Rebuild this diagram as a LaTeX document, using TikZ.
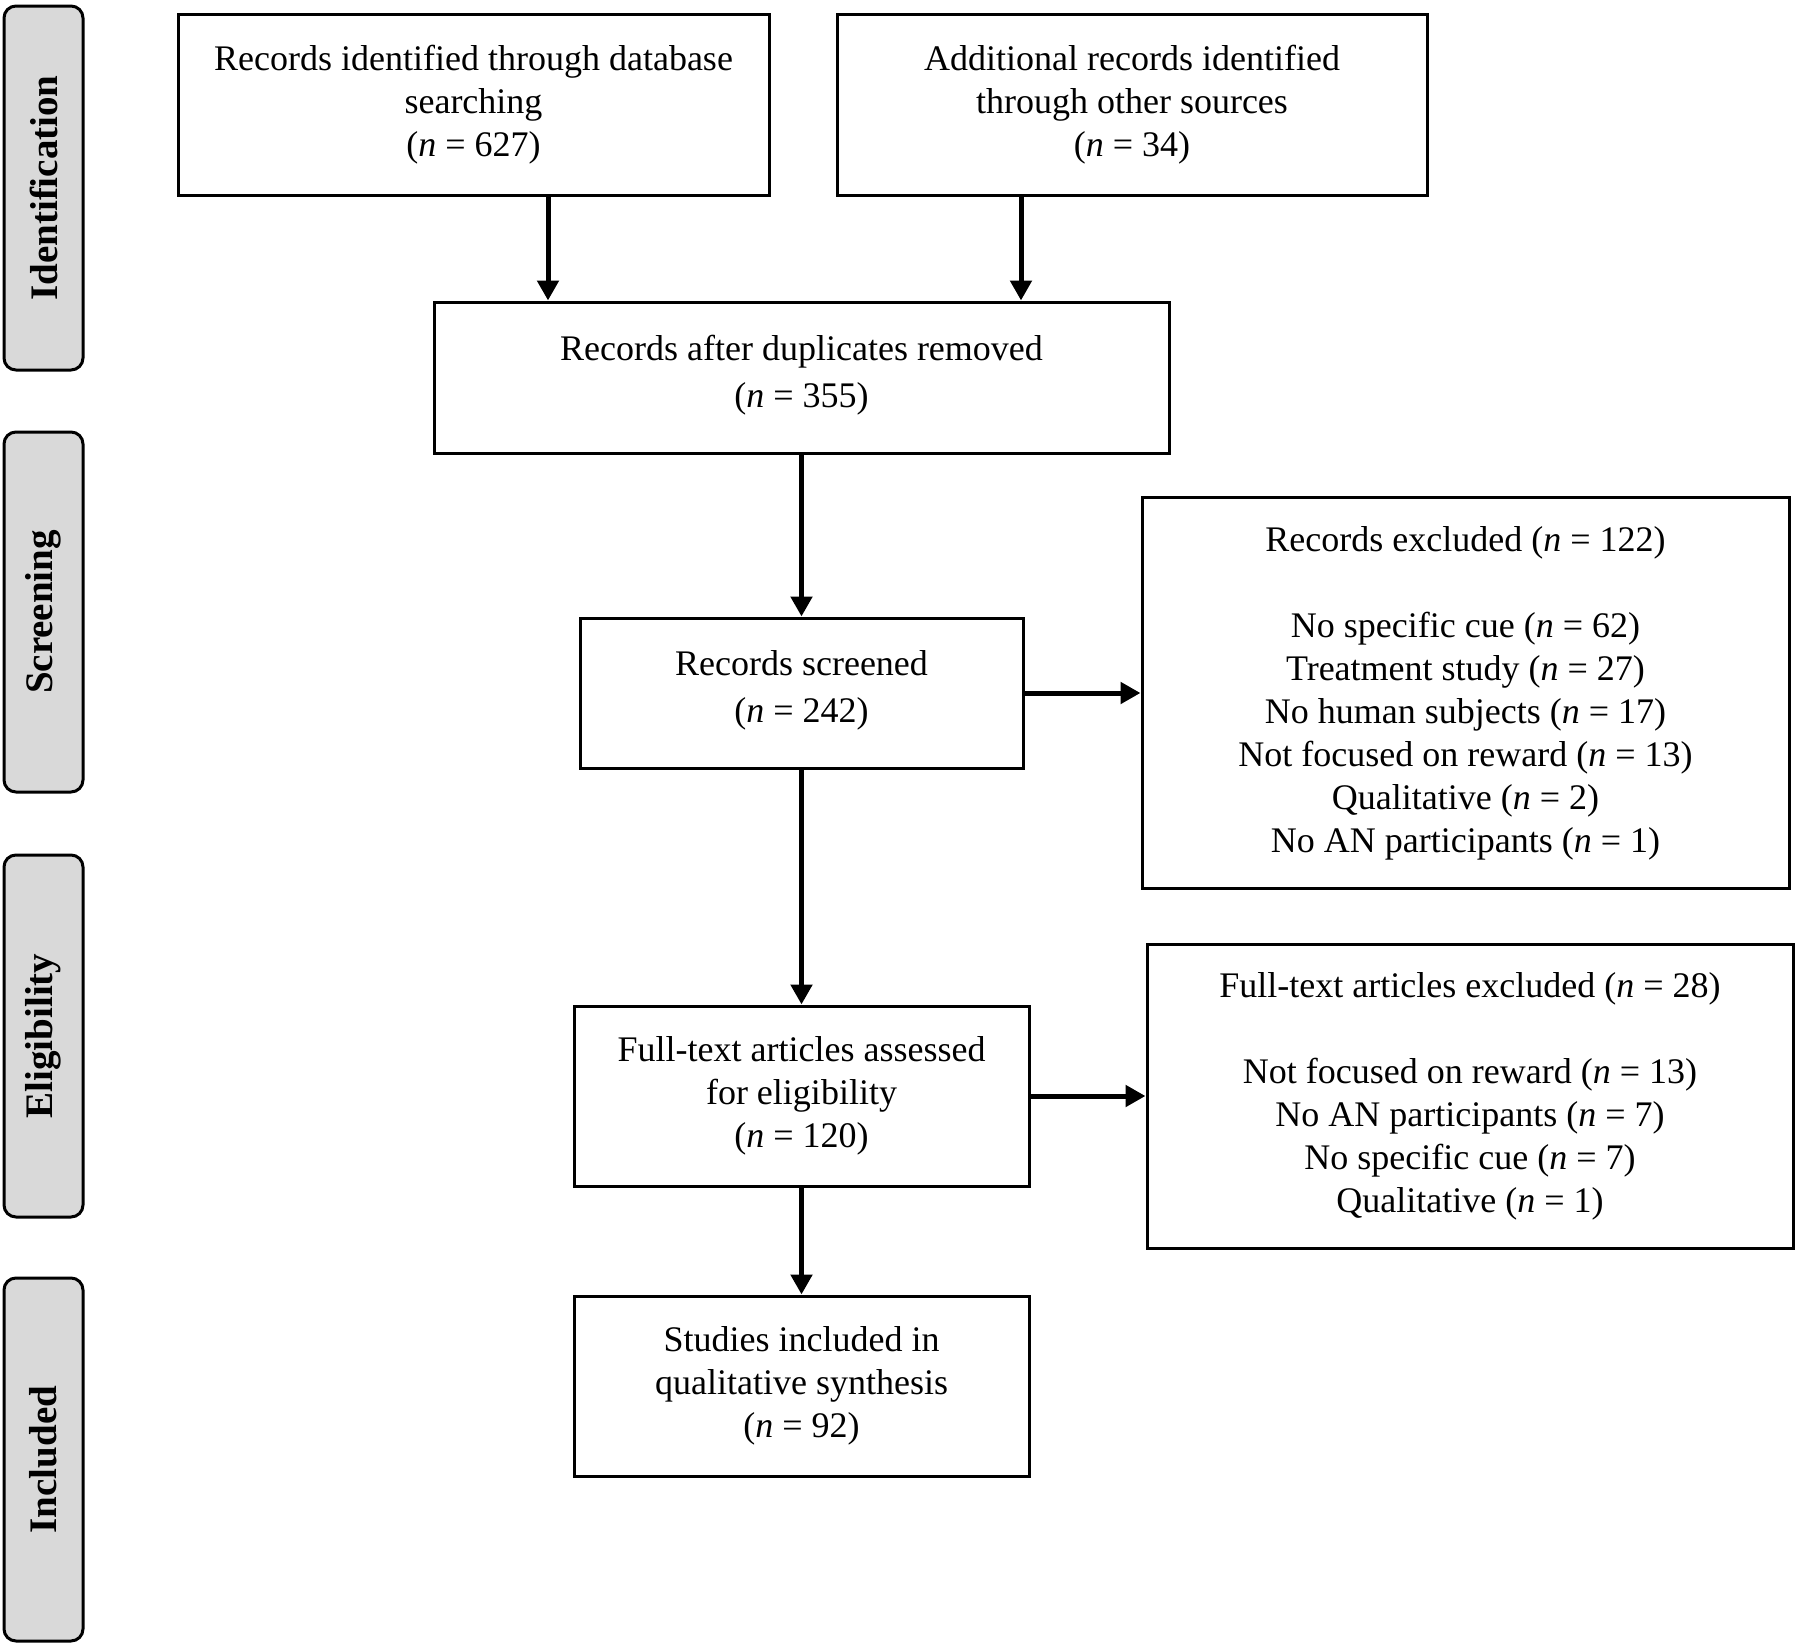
\documentclass[tikz,border=0pt]{standalone}
\usepackage{fontspec}
\setmainfont{Liberation Serif}
\usetikzlibrary{arrows.meta,calc}
\definecolor{phasegray}{HTML}{D9D9D9}
\newlength\boxrule
\newlength\arrowrule
\setlength{\boxrule}{1.5pt}
\setlength{\arrowrule}{2.5pt}
\newcommand{\nval}[1]{(\textit{n} = #1)}
\newcommand{\phaselabel}[3]{
   \node[phase, minimum width=#3] (#1) at (43.5,#2) {#1};
}
\tikzset{
  stagebox/.style={draw, line width=\boxrule, align=center, inner sep=4pt,
    font=\fontsize{18pt}{21.5pt}\selectfont},
  phase/.style={draw, line width=\boxrule, fill=phasegray, rounded corners=6pt,
    rotate=90, minimum height=39.5pt, inner sep=0pt,
    font=\fontsize{19.5pt}{22pt}\selectfont\bfseries},
  flow/.style={line width=\arrowrule, -{Triangle[length=10pt,width=10.5pt]}}
}
\begin{document}
\begin{tikzpicture}[x=0.5pt,y=-0.5pt]
    \useasboundingbox (0,0) rectangle (1800,1649);
    % phases
    \phaselabel{Identification}{188}{182pt}
    \phaselabel{Screening}{612}{180pt}
    \phaselabel{Eligibility}{1036}{181pt}
    \phaselabel{Included}{1459.5}{181.5pt}
    % boxes
    \node[stagebox, minimum width=295.5pt, minimum height=90.5pt] (dbsearch) at (473.5,104.5)
      {Records identified through database\\searching\\\nval{627}};
    \node[stagebox, minimum width=295pt, minimum height=90.5pt] (other) at (1132,104.5)
      {Additional records identified\\through other sources\\\nval{34}};
    \node[stagebox, minimum width=367.5pt, minimum height=75.5pt] (dedup) at (801.5,377.5)
      {Records after duplicates removed\\[2pt]\nval{355}\\[-15pt]\mbox{}};
    \node[stagebox, minimum width=221.5pt, minimum height=75pt] (screened) at (801.5,693)
      {Records screened\\[2pt]\nval{242}\\[-15pt]\mbox{}};
    \node[stagebox, minimum width=323.5pt, minimum height=195.5pt] (excl) at (1465.5,693)
      {Records excluded \nval{122}\\[21.5pt]
       No specific cue \nval{62}\\
       Treatment study \nval{27}\\
       No human subjects \nval{17}\\
       Not focused on reward \nval{13}\\
       Qualitative \nval{2}\\
       No AN participants \nval{1}};
    \node[stagebox, minimum width=227.5pt, minimum height=90pt] (fulltext) at (801.5,1096)
      {Full-text articles assessed\\for eligibility\\\nval{120}};
    \node[stagebox, minimum width=323pt, minimum height=152pt] (ftexcl) at (1470,1096)
      {Full-text articles excluded \nval{28}\\[21.5pt]
       Not focused on reward \nval{13}\\
       No AN participants \nval{7}\\
       No specific cue \nval{7}\\
       Qualitative \nval{1}};
    \node[stagebox, minimum width=227.5pt, minimum height=90pt] (included) at (801.5,1386)
      {Studies included in\\qualitative synthesis\\\nval{92}};
    % arrows
    \coordinate (A1) at (548,0);
    \coordinate (A2) at (1021,0);
    \draw[flow] (dbsearch.south -| A1) -- (dedup.north -| A1);
    \draw[flow] (other.south -| A2) -- (dedup.north -| A2);
    \draw[flow] (dedup) -- (screened);
    \draw[flow] (screened) -- (excl);
    \draw[flow] (screened) -- (fulltext);
    \draw[flow] (fulltext) -- (ftexcl);
    \draw[flow] (fulltext) -- (included);
\end{tikzpicture}
\end{document}
